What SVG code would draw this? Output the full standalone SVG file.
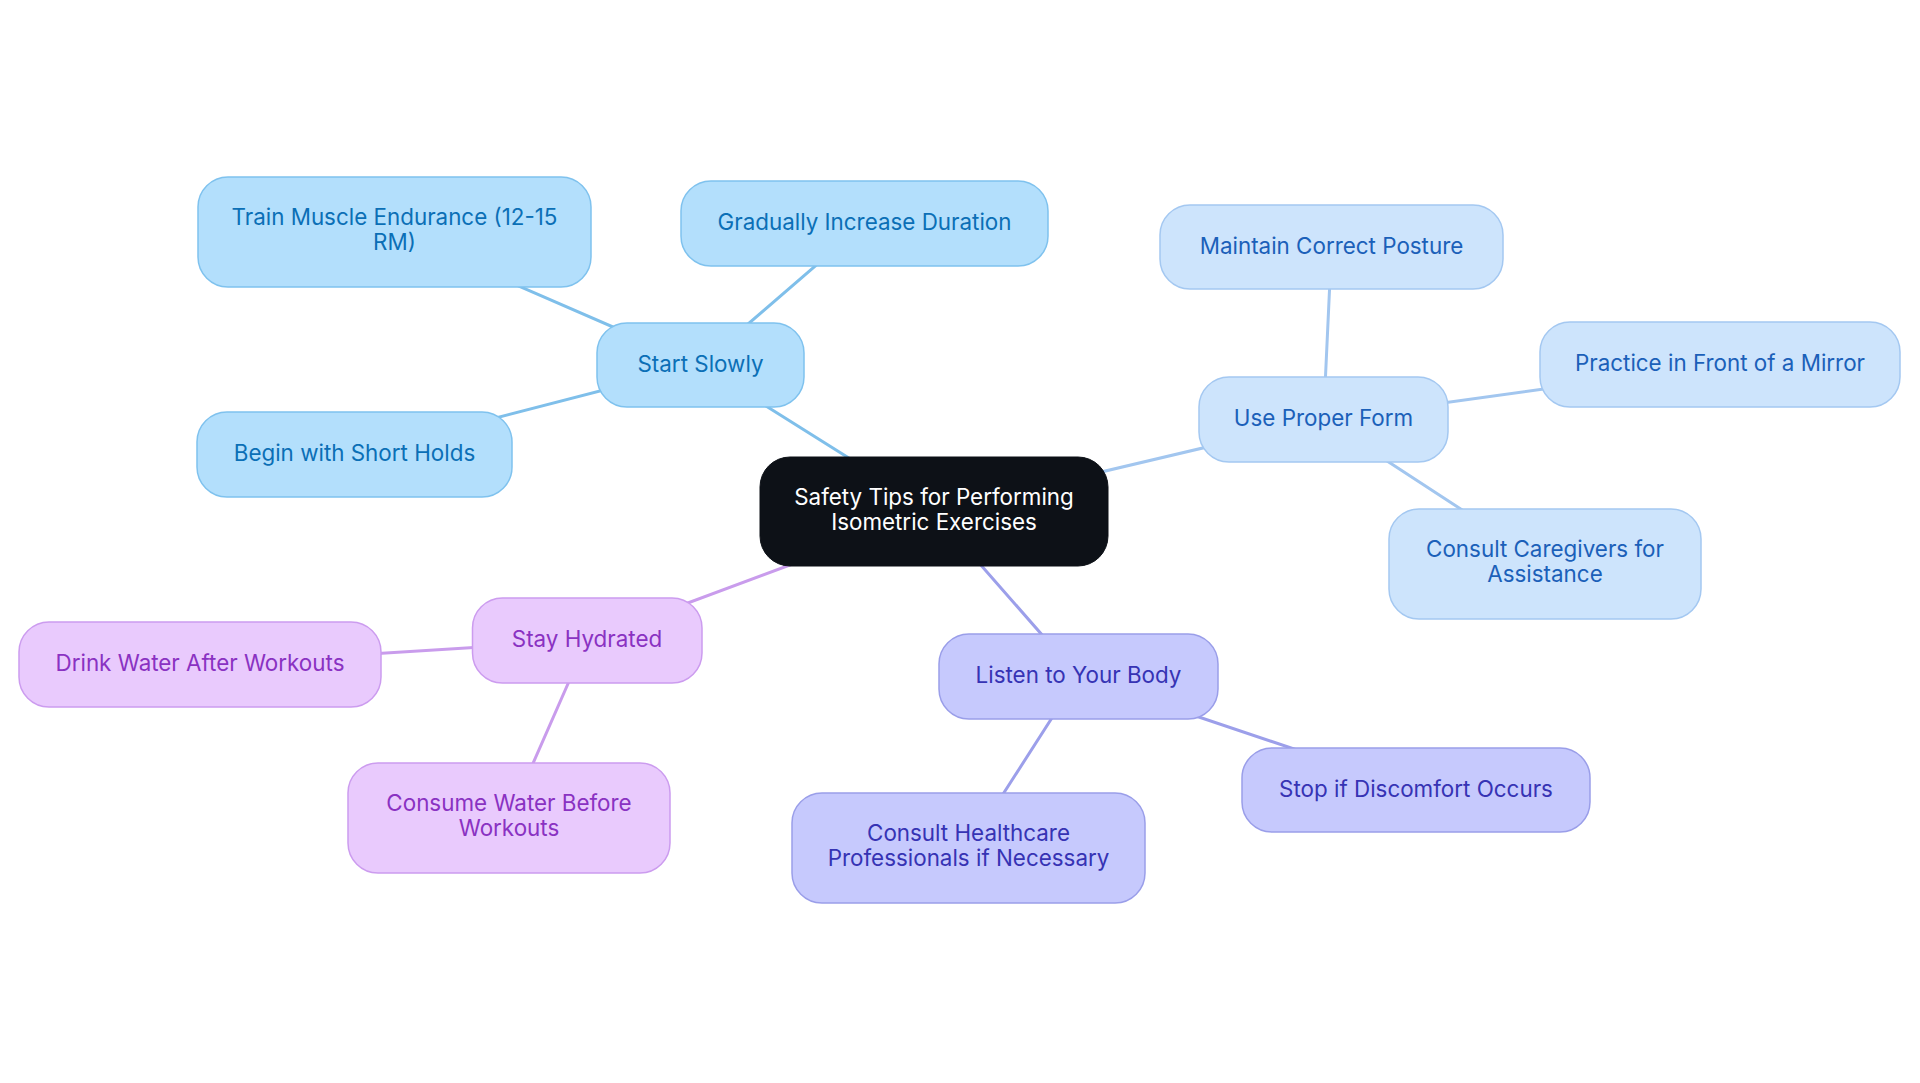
<svg xmlns="http://www.w3.org/2000/svg" width="1920" height="1083" viewBox="0 0 1920 1083">
<style>
text{font-family:Inter,"Open Sans","Liberation Sans",sans-serif;font-size:22.4px;text-anchor:middle}
.e{stroke-width:3;fill:none;stroke-linecap:round}
.eb{stroke:#7fbfea}.ep{stroke:#a2c6ef}.ei{stroke:#9c9fea}.eh{stroke:#c99cec}
.root rect{fill:#0d1117;stroke:#0d1117}
.root text{fill:#ffffff}
.b rect{fill:#b3dffc;stroke:#7fc2ee;stroke-width:1.5}
.b text{fill:#0b6fb6}
.p rect{fill:#cde4fc;stroke:#a4c8f1;stroke-width:1.5}
.p text{fill:#1b60b9}
.i rect{fill:#c6c9fd;stroke:#9a9ee9;stroke-width:1.5}
.i text{fill:#3633b4}
.h rect{fill:#e9cafd;stroke:#cc9cef;stroke-width:1.5}
.h text{fill:#8a32c2}
</style>
<rect width="1920" height="1083" fill="#ffffff"/>
<g id="connectors">
<line class="e eb" x1="934" y1="511.5" x2="700.5" y2="365"/>
<line class="e eb" x1="700.5" y1="365" x2="394.5" y2="232"/>
<line class="e eb" x1="700.5" y1="365" x2="864.5" y2="223.5"/>
<line class="e eb" x1="700.5" y1="365" x2="354.5" y2="454.5"/>
<line class="e ep" x1="934" y1="511.5" x2="1323.5" y2="419.5"/>
<line class="e ep" x1="1323.5" y1="419.5" x2="1331.5" y2="247"/>
<line class="e ep" x1="1323.5" y1="419.5" x2="1720" y2="364.5"/>
<line class="e ep" x1="1323.5" y1="419.5" x2="1545" y2="564"/>
<line class="e ei" x1="934" y1="511.5" x2="1078.5" y2="676.5"/>
<line class="e ei" x1="1078.5" y1="676.5" x2="968.5" y2="848"/>
<line class="e ei" x1="1078.5" y1="676.5" x2="1416" y2="790"/>
<line class="e eh" x1="934" y1="511.5" x2="587" y2="640.5"/>
<line class="e eh" x1="587" y1="640.5" x2="200" y2="664.5"/>
<line class="e eh" x1="587" y1="640.5" x2="509" y2="818"/>
</g>
<g id="root" class="root">
<rect x="760" y="457" width="348" height="109" rx="30"/>
<text x="934" y="505">Safety Tips for Performing</text>
<text x="934" y="530">Isometric Exercises</text>
</g>
<g id="start-slowly" class="b">
<rect x="597" y="323" width="207" height="84" rx="30"/>
<text x="700.5" y="372">Start Slowly</text>
</g>
<g id="train-muscle" class="b">
<rect x="198" y="177" width="393" height="110" rx="30"/>
<text x="394.5" y="225">Train Muscle Endurance (12-15</text>
<text x="394.5" y="250">RM)</text>
</g>
<g id="gradually" class="b">
<rect x="681" y="181" width="367" height="85" rx="30"/>
<text x="864.5" y="229.5">Gradually Increase Duration</text>
</g>
<g id="begin-short" class="b">
<rect x="197" y="412" width="315" height="85" rx="30"/>
<text x="354.5" y="461">Begin with Short Holds</text>
</g>
<g id="proper-form" class="p">
<rect x="1199" y="377" width="249" height="85" rx="30"/>
<text x="1323.5" y="426">Use Proper Form</text>
</g>
<g id="posture" class="p">
<rect x="1160" y="205" width="343" height="84" rx="30"/>
<text x="1331.5" y="253.5">Maintain Correct Posture</text>
</g>
<g id="mirror" class="p">
<rect x="1540" y="322" width="360" height="85" rx="30"/>
<text x="1720" y="371">Practice in Front of a Mirror</text>
</g>
<g id="caregivers" class="p">
<rect x="1389" y="509" width="312" height="110" rx="30"/>
<text x="1545" y="557">Consult Caregivers for</text>
<text x="1545" y="582">Assistance</text>
</g>
<g id="listen" class="i">
<rect x="939" y="634" width="279" height="85" rx="30"/>
<text x="1078.5" y="683">Listen to Your Body</text>
</g>
<g id="healthcare" class="i">
<rect x="792" y="793" width="353" height="110" rx="30"/>
<text x="968.5" y="841">Consult Healthcare</text>
<text x="968.5" y="866">Professionals if Necessary</text>
</g>
<g id="stop" class="i">
<rect x="1242" y="748" width="348" height="84" rx="30"/>
<text x="1416" y="796.5">Stop if Discomfort Occurs</text>
</g>
<g id="hydrated" class="h">
<rect x="472.5" y="598" width="229.5" height="85" rx="30"/>
<text x="587" y="647">Stay Hydrated</text>
</g>
<g id="drink" class="h">
<rect x="19" y="622" width="362" height="85" rx="30"/>
<text x="200" y="671">Drink Water After Workouts</text>
</g>
<g id="consume" class="h">
<rect x="348" y="763" width="322" height="110" rx="30"/>
<text x="509" y="811">Consume Water Before</text>
<text x="509" y="836">Workouts</text>
</g>
</svg>
